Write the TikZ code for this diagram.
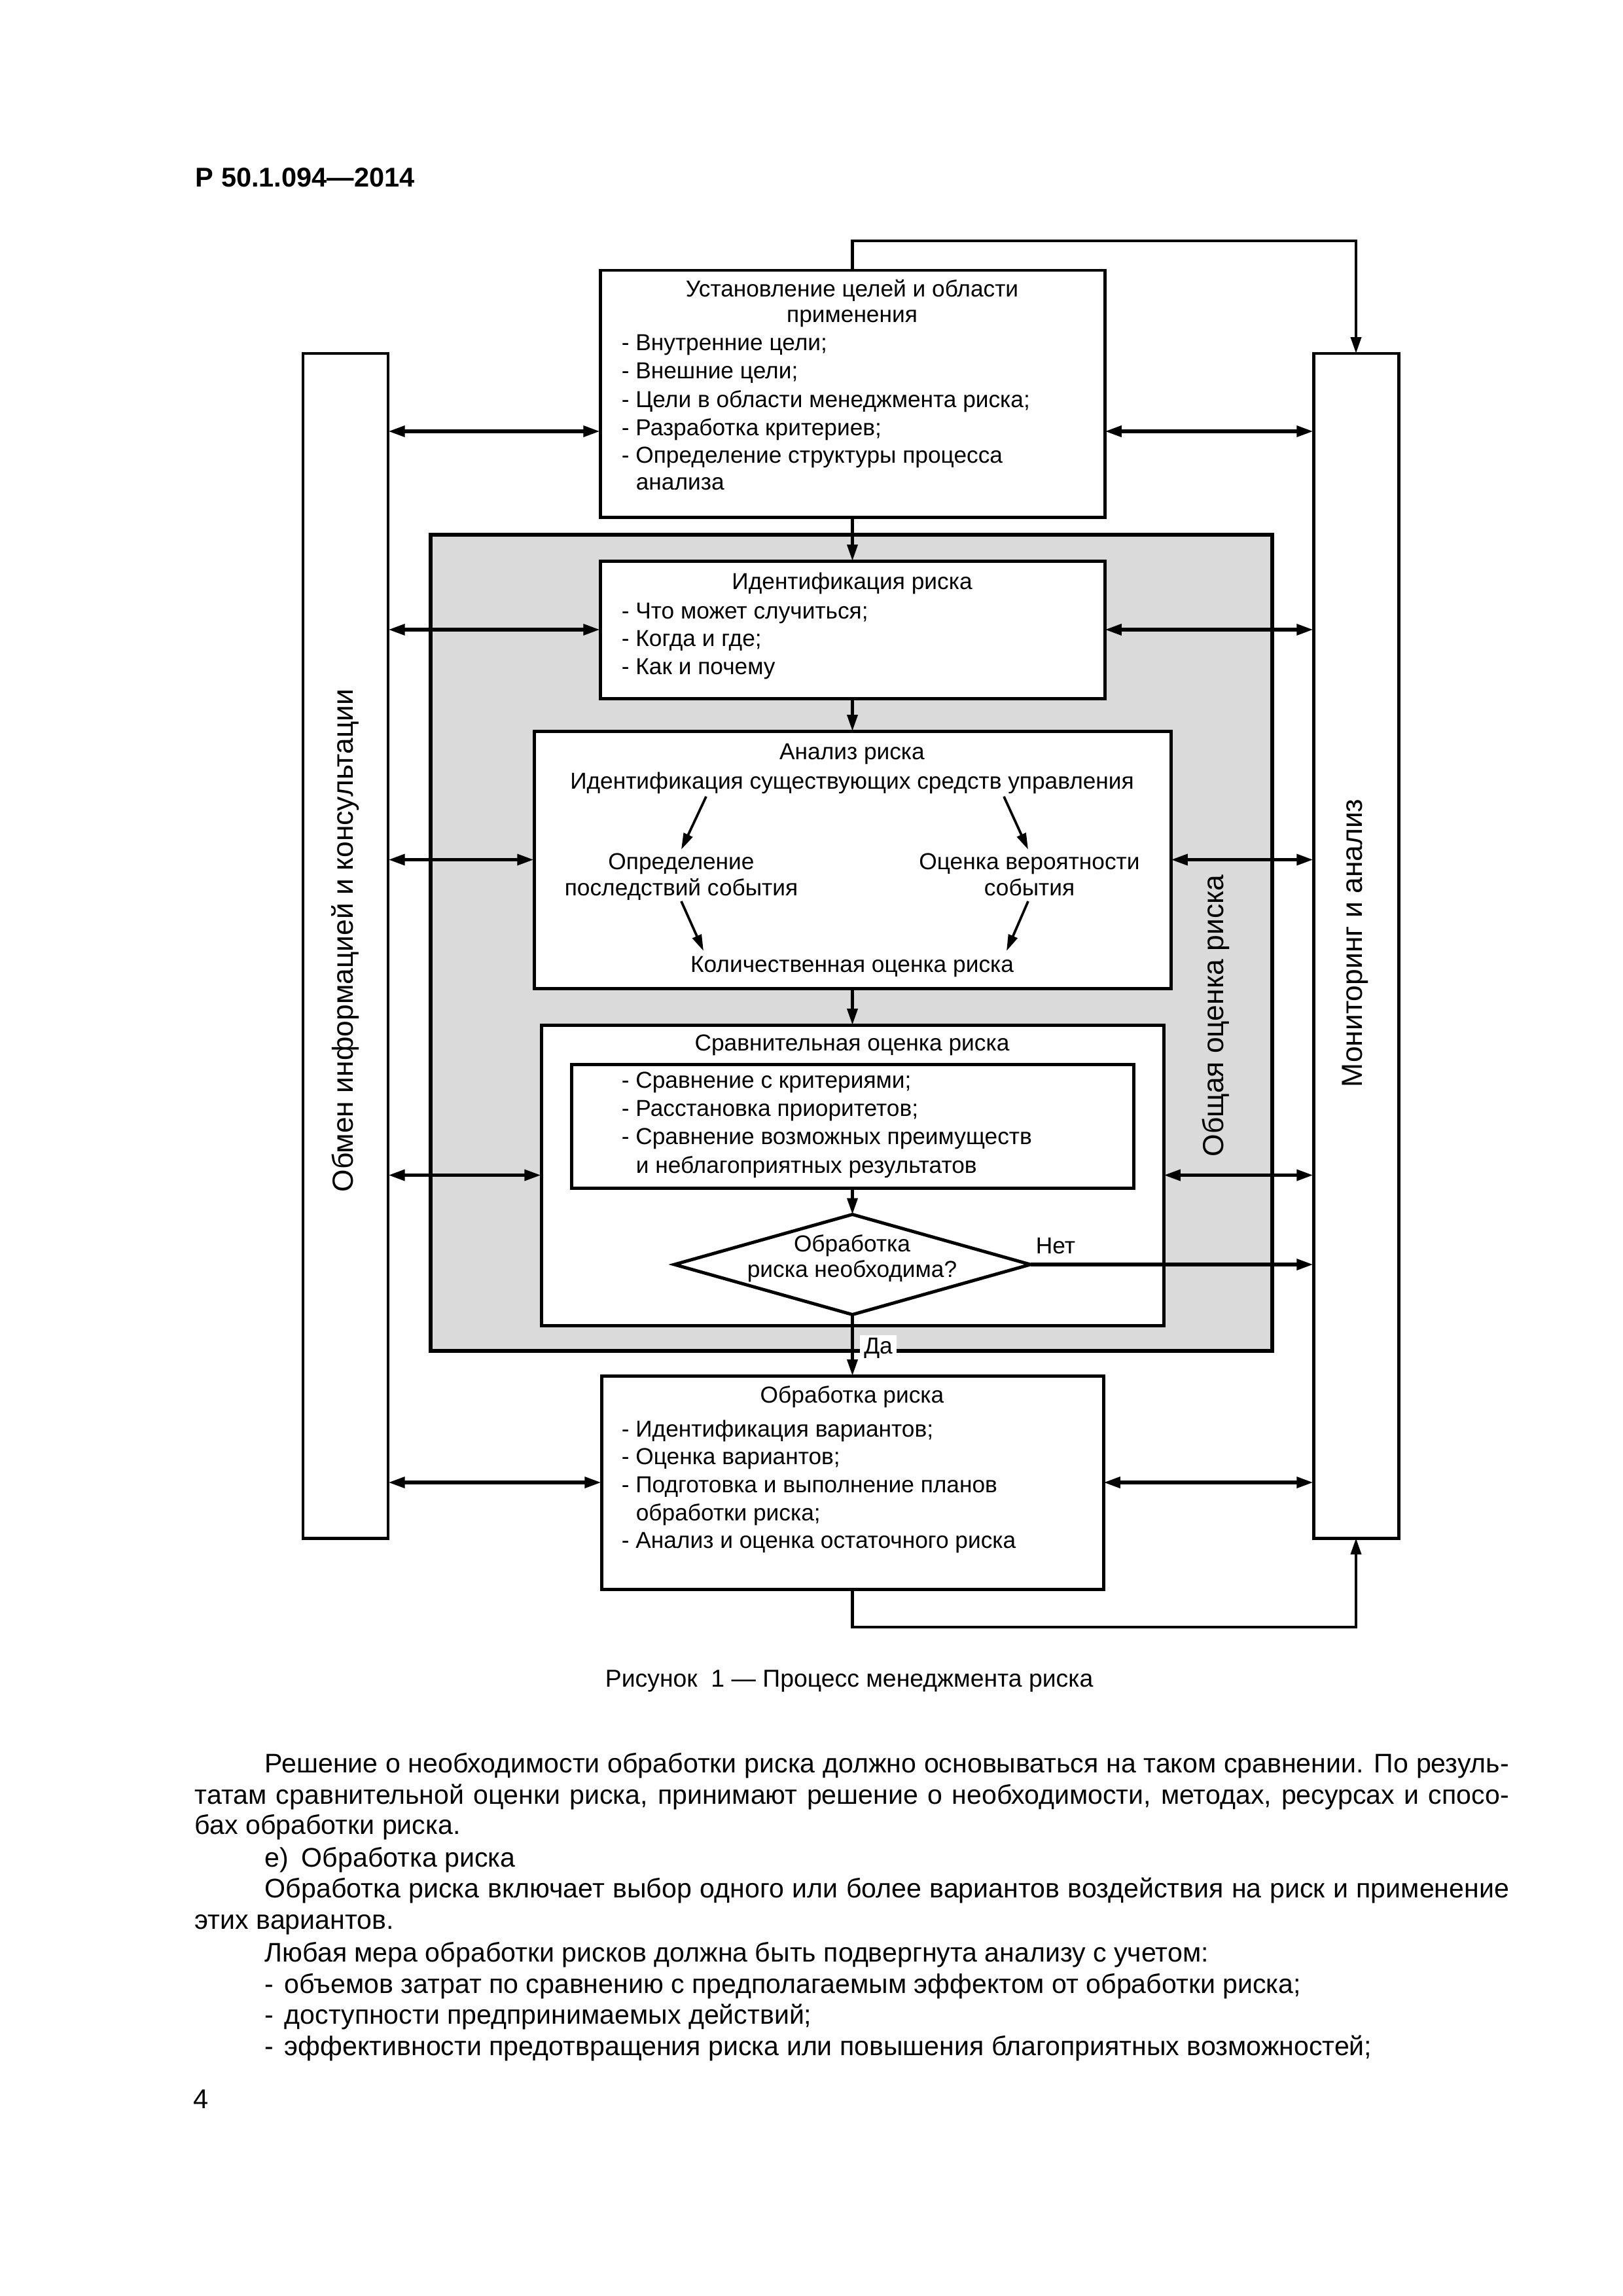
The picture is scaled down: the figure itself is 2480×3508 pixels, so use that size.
\documentclass[tikz,border=0pt]{standalone}
\usepackage{fontspec}
\setmainfont{Liberation Sans}
\usetikzlibrary{arrows.meta,shapes.geometric}
\def\px{0.084677mm}
\definecolor{regiongray}{RGB}{218,218,218}
\begin{document}
\begin{tikzpicture}[x=0.084677mm, y=-0.084677mm,
  box/.style={draw, line width=1.2pt, fill=white, rectangle, inner sep=0pt, outer sep=0pt},
  region/.style={draw, line width=1.3pt, fill=regiongray, rectangle, inner sep=0pt, outer sep=0pt},
  decision/.style={draw, line width=1.2pt, fill=white, diamond, inner sep=0pt, outer sep=0pt},
  txt/.style={inner sep=0pt, anchor=base west, font=\fontsize{8.5}{10}\selectfont},
  ctxt/.style={inner sep=0pt, anchor=base, font=\fontsize{8.5}{10}\selectfont},
  vtxt/.style={inner sep=0pt, rotate=90, font=\fontsize{10.7}{12}\selectfont},
  bodytxt/.style={inner sep=0pt, anchor=base west, font=\fontsize{9.9}{11.5}\selectfont},
  biarrow/.style={line width=1.4pt, {Triangle[length=6.2pt,width=3.9pt]}-{Triangle[length=6.2pt,width=3.9pt]}},
  onearrow/.style={line width=1.4pt, -{Triangle[length=6.2pt,width=3.9pt]}},
  flow/.style={line width=1.05pt, -{Triangle[length=6pt,width=3.8pt]}},
  diag/.style={line width=0.9pt, -{Triangle[length=6pt,width=3.5pt]}}
]
\useasboundingbox (0,0) rectangle (2480,3508);

% header
\node[inner sep=0pt, anchor=base west, font=\fontsize{10}{12}\selectfont\bfseries] (hdr) at (298,285) {Р 50.1.094—2014};

% gray region
\node[region, minimum width={1286*\px}, minimum height={1247*\px}] (reg) at (1301,1440.5) {};

% side boxes
\node[box, minimum width={130*\px}, minimum height={1810*\px}] (lbox) at (528,1445) {};
\node[box, minimum width={130*\px}, minimum height={1810*\px}] (rbox) at (2072,1445) {};

% main boxes
\node[box, minimum width={771*\px}, minimum height={377*\px}] (top) at (1302.5,601.5) {};
\node[box, minimum width={771*\px}, minimum height={210*\px}] (ident) at (1302.5,962) {};
\node[box, minimum width={973*\px}, minimum height={393*\px}] (anal) at (1302.5,1313.5) {};
\node[box, minimum width={951*\px}, minimum height={459*\px}] (comp) at (1302.5,1795.5) {};
\node[box, minimum width={859*\px}, minimum height={189*\px}] (inner) at (1302.5,1720.5) {};
\node[decision, minimum width={544*\px}, minimum height={153*\px}] (dia) at (1302.5,1932) {};
\node[box, minimum width={767*\px}, minimum height={326*\px}] (treat) at (1302.5,2265) {};

% vertical labels
\node[vtxt] (lblL) at (528,1437) {Обмен информацией и консультации};
\node[vtxt] (lblR) at (2071,1441) {Мониторинг и анализ};
\node[vtxt] (lblG) at (1858,1552) {Общая оценка риска};

% levels
\coordinate (ytop) at (0,659);
\coordinate (lt) at (1302.5,368);
\coordinate (lb) at (1302.5,2486);

% bidirectional arrows
\draw[biarrow] (lbox.east |- ytop) -- (top.west |- ytop);
\draw[biarrow] (top.east |- ytop) -- (rbox.west |- ytop);
\draw[biarrow] (lbox.east |- ident.west) -- (ident.west);
\draw[biarrow] (ident.east) -- (rbox.west |- ident.east);
\draw[biarrow] (lbox.east |- anal.west) -- (anal.west);
\draw[biarrow] (anal.east) -- (rbox.west |- anal.east);
\draw[biarrow] (lbox.east |- comp.west) -- (comp.west);
\draw[biarrow] (comp.east) -- (rbox.west |- comp.east);
\draw[biarrow] (lbox.east |- treat.west) -- (treat.west);
\draw[biarrow] (treat.east) -- (rbox.west |- treat.east);
\draw[onearrow] (dia.east) -- (rbox.west |- dia.east);

% flow arrows
\draw[flow] (top.north) -- (lt) -| (rbox.north);
\draw[flow] (treat.south) -- (lb) -| (rbox.south);
\draw[flow] (top.south) -- (ident.north);
\draw[flow] (ident.south) -- (anal.north);
\draw[flow] (anal.south) -- (comp.north);
\draw[flow] (inner.south) -- (dia.north);
\draw[flow] (dia.south) -- (treat.north);

% analysis inner arrows
\coordinate (a1) at (1079,1217); \coordinate (a2) at (1041,1298);
\coordinate (a3) at (1534,1217); \coordinate (a4) at (1571,1298);
\coordinate (a5) at (1041,1377); \coordinate (a6) at (1075,1453);
\coordinate (a7) at (1571,1377); \coordinate (a8) at (1538,1453);
\draw[diag] (a1) -- (a2);
\draw[diag] (a3) -- (a4);
\draw[diag] (a5) -- (a6);
\draw[diag] (a7) -- (a8);

% top box text
\node[ctxt] (t1) at (1302,453) {Установление целей и области};
\node[ctxt] (t2) at (1302,492) {применения};
\node[txt] (t3) at (949,535) {- Внутренние цели;};
\node[txt] (t4) at (949,578) {- Внешние цели;};
\node[txt] (t5) at (949,622) {- Цели в области менеджмента риска;};
\node[txt] (t6) at (949,665) {- Разработка критериев;};
\node[txt] (t7) at (949,707) {- Определение структуры процесса};
\node[txt] (t8) at (971,748) {анализа};

% identification text
\node[ctxt] (i1) at (1302,900) {Идентификация риска};
\node[txt] (i2) at (949,945) {- Что может случиться;};
\node[txt] (i3) at (949,987) {- Когда и где;};
\node[txt] (i4) at (949,1030) {- Как и почему};

% analysis text
\node[ctxt] (n1) at (1302,1160) {Анализ риска};
\node[ctxt] (n2) at (1302,1205) {Идентификация существующих средств управления};
\node[ctxt] (n3) at (1041,1328) {Определение};
\node[ctxt] (n4) at (1041,1368) {последствий события};
\node[ctxt] (n5) at (1573,1328) {Оценка вероятности};
\node[ctxt] (n6) at (1573,1368) {события};
\node[ctxt] (n7) at (1302,1485) {Количественная оценка риска};

% comparison text
\node[ctxt] (c1) at (1302,1605) {Сравнительная оценка риска};
\node[txt] (c2) at (949,1662) {- Сравнение с критериями;};
\node[txt] (c3) at (949,1705) {- Расстановка приоритетов;};
\node[txt] (c4) at (949,1748) {- Сравнение возможных преимуществ};
\node[txt] (c5) at (971,1792) {и неблагоприятных результатов};
\node[ctxt] (d1) at (1302,1912) {Обработка};
\node[ctxt] (d2) at (1302,1951) {риска необходима?};
\node[txt] (no) at (1582,1915) {Нет};
\node[ctxt, fill=white, inner xsep=1.5pt, inner ysep=1pt] (yes) at (1342,2068) {Да};

% treatment text
\node[ctxt] (r1) at (1302,2143) {Обработка риска};
\node[txt] (r2) at (949,2195) {- Идентификация вариантов;};
\node[txt] (r3) at (949,2237) {- Оценка вариантов;};
\node[txt] (r4) at (949,2280) {- Подготовка и выполнение планов};
\node[txt] (r5) at (971,2323) {обработки риска;};
\node[txt] (r6) at (949,2365) {- Анализ и оценка остаточного риска};

% caption
\node[inner sep=0pt, anchor=base west, font=\fontsize{9}{11}\selectfont] (cap) at (924,2577) {Рисунок\ \ 1 — Процесс менеджмента риска};

% body text
\node[bodytxt] (b1) at (404,2708) {\makebox[160.97mm][s]{Решение о необходимости обработки риска должно основываться на таком сравнении. По резуль-}};
\node[bodytxt] (b2) at (297,2756) {\makebox[170.03mm][s]{татам сравнительной оценки риска, принимают решение о необходимости, методах, ресурсах и спосо-}};
\node[bodytxt] (b3) at (297,2802) {бах обработки риска.};
\node[bodytxt] (b4) at (404,2852) {\makebox[4.74mm][l]{е)}Обработка риска};
\node[bodytxt] (b5) at (404,2899) {\makebox[160.97mm][s]{Обработка риска включает выбор одного или более вариантов воздействия на риск и применение}};
\node[bodytxt] (b6) at (297,2947) {этих вариантов.};
\node[bodytxt] (b7) at (404,2997) {Любая мера обработки рисков должна быть подвергнута анализу с учетом:};
\node[bodytxt] (b8) at (404,3045) {\makebox[2.54mm][l]{-}объемов затрат по сравнению с предполагаемым эффектом от обработки риска;};
\node[bodytxt] (b9) at (404,3092) {\makebox[2.54mm][l]{-}доступности предпринимаемых действий;};
\node[bodytxt] (b10) at (404,3140) {\makebox[2.54mm][l]{-}эффективности предотвращения риска или повышения благоприятных возможностей;};

% page number
\node[inner sep=0pt, anchor=base west, font=\fontsize{10}{12}\selectfont] (pg) at (295,3221) {4};
\end{tikzpicture}
\end{document}
